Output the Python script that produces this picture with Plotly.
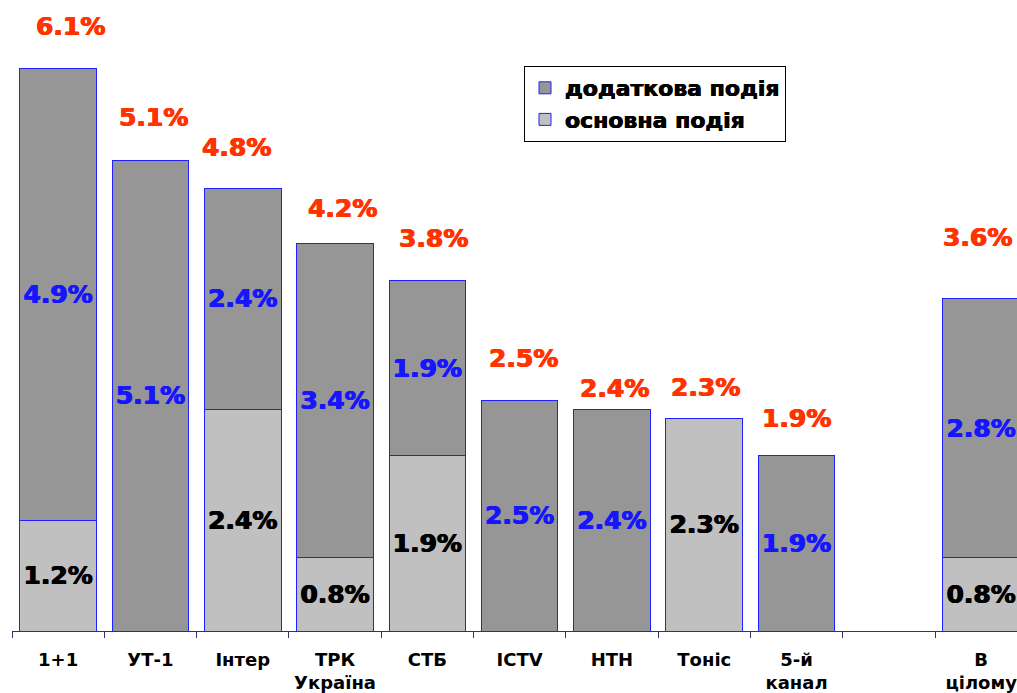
import plotly.graph_objects as go

categories = ["1+1", "УТ-1", "Інтер", "ТРК<br>Україна", "СТБ", "ICTV", "НТН", "Тоніс", "5-й<br>канал", " ", "В<br>цілому"]
main_event = [1.2, 0, 2.4, 0.8, 1.9, 0, 0, 2.3, 0, 0, 0.8]
extra_event = [4.9, 5.1, 2.4, 3.4, 1.9, 2.5, 2.4, 0, 1.9, 0, 2.8]
totals = [6.1, 5.1, 4.8, 4.2, 3.8, 2.5, 2.4, 2.3, 1.9, None, 3.6]

# placement of the total labels (pixels, relative to top of each bar)
label_dx = [12, 3, -6, 7, 6, 4, 3, 1, 0, 0, -4]
label_dy = [42, 43, 41, 35, 42, 42, 21, 31, 37, 0, 61]

FONT = "DejaVu Sans"


def bold(s):
    return "<br>".join(f"<b>{p}</b>" if p.strip() else p for p in s.split("<br>"))


def lbl(v):
    return f"<b>{v:.1f}%</b>" if v else ""


def thick(color, w=0.6):
    return f"{w}px 0px 0px {color}, -{w}px 0px 0px {color}"


fig = go.Figure()
fig.add_trace(go.Bar(
    x=categories, y=main_event, name="<b>основна подія</b>",
    marker=dict(color="#C0C0C0", line=dict(color="#2020FF", width=1)),
    text=[lbl(v) for v in main_event], textposition="inside",
    insidetextanchor="middle", constraintext="none",
    textfont=dict(family=FONT, size=25, color="black", shadow=thick("black")),
    width=0.83,
))
fig.add_trace(go.Bar(
    x=categories, y=extra_event, name="<b>додаткова подія</b>",
    marker=dict(color="#969696", line=dict(color="#2020FF", width=1)),
    text=[lbl(v) for v in extra_event], textposition="inside",
    insidetextanchor="middle", constraintext="none",
    textfont=dict(family=FONT, size=25, color="#1515FF", shadow=thick("#1515FF")),
    width=0.83,
))

for c, t, dx, dy in zip(categories, totals, label_dx, label_dy):
    if t is None:
        continue
    fig.add_annotation(x=c, y=t, text=f"<b>{t:.1f}%</b>", showarrow=False,
                       yanchor="middle", yshift=dy, xshift=dx,
                       font=dict(family=FONT, size=25, color="#FF3300", shadow=thick("#FF3300")))

W = 1040
L = 12
fig.update_layout(
    width=W, height=693,
    margin=dict(l=L, r=0, t=22, b=62),
    barmode="stack",
    plot_bgcolor="white", paper_bgcolor="white",
    showlegend=True,
    legend=dict(x=(524 - L) / (W - L), y=(631 - 66) / 609, xanchor="left", yanchor="top",
                traceorder="reversed",
                bordercolor="black", borderwidth=1, bgcolor="white",
                font=dict(family=FONT, size=22, color="black", shadow=thick("black", 0.4)),
                itemwidth=30),
    font=dict(family=FONT),
)
fig.update_xaxes(range=[-0.5, -0.5 + (W - L) / 92.3], showline=True, linecolor="#333366", linewidth=1,
                 ticks="outside", ticklen=6, tickcolor="#333366", tickson="boundaries",
                 tickvals=categories, ticktext=[bold(c) for c in categories],
                 ticklabelstandoff=12, automargin=False,
                 tickfont=dict(family=FONT, size=18, color="black"),
                 showgrid=False)
fig.update_yaxes(range=[0, 6.6], visible=False, showgrid=False)

fig.write_html("out.html", config={"displayModeBar": False},
               post_script="document.body.style.margin='0';document.body.style.overflow='hidden';")
